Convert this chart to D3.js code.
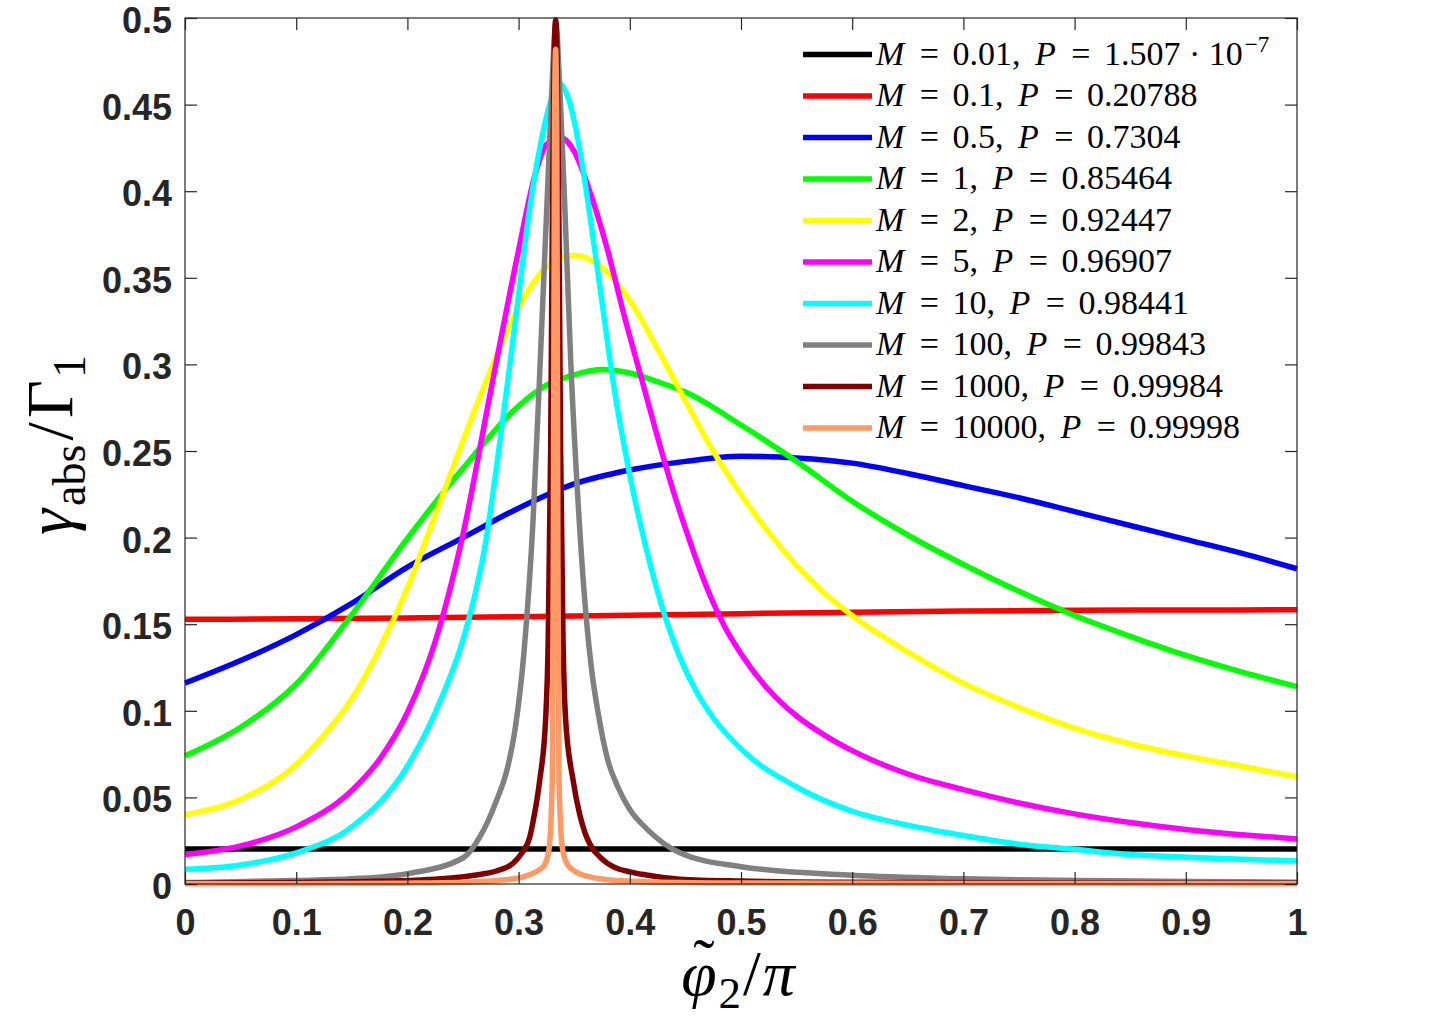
<!DOCTYPE html>
<html><head><meta charset="utf-8">
<script src="https://cdn.jsdelivr.net/npm/d3@7"></script>
<style>body{margin:0;background:#fff}svg{display:block}</style>
</head><body>
<svg id="chart" width="1434" height="1023"></svg>
<script>
// ---------- data ----------
const xTicks = [0,0.1,0.2,0.3,0.4,0.5,0.6,0.7,0.8,0.9,1];
const xTickLabels = ["0","0.1","0.2","0.3","0.4","0.5","0.6","0.7","0.8","0.9","1"];
const yTicks = [0,0.05,0.1,0.15,0.2,0.25,0.3,0.35,0.4,0.45,0.5];
const yTickLabels = ["0","0.05","0.1","0.15","0.2","0.25","0.3","0.35","0.4","0.45","0.5"];

const mLabels = ["0.01","0.1","0.5","1","2","5","10","100","1000","10000"];
const pLabels = ["1.507 \u00B7 10","0.20788","0.7304","0.85464","0.92447","0.96907","0.98441","0.99843","0.99984","0.99998"];
const pExponents = ["\u22127","","","","","","","","",""];
const colors = ["#000000","#ff0000","#0000ff","#00ff00","#ffff00","#ff00ff","#00ffff","#808080","#800000","#ff9966"];

const xM001 = [0,0.1,0.2,0.3,0.4,0.5,0.6,0.7,0.8,0.9,1];
const yM001 = [0.0202,0.0202,0.0202,0.0202,0.0202,0.0202,0.0202,0.0202,0.0202,0.0202,0.0202];

const xM01 = [0,0.1,0.2,0.3,0.4,0.5,0.6,0.7,0.8,0.9,1];
const yM01 = [0.1528,0.1531,0.1536,0.1543,0.1551,0.1561,0.1569,0.1576,0.1580,0.1582,0.1583];

const xM05 = [0,0.05,0.1,0.15,0.2,0.25,0.3,0.35,0.4,0.45,0.5,0.55,0.6,0.65,0.7,0.75,0.8,0.85,0.9,0.95,1];
const yM05 = [0.116,0.129,0.144,0.162,0.183,0.200,0.217,0.231,0.239,0.244,0.247,0.246,0.243,0.237,0.230,0.223,0.215,0.207,0.199,0.191,0.182];

const xM1 = [0,0.05,0.1,0.15,0.2,0.25,0.3,0.325,0.35,0.375,0.4,0.425,0.45,0.5,0.55,0.6,0.65,0.7,0.75,0.8,0.85,0.9,0.95,1];
const yM1 = [0.074,0.0905,0.1155,0.1555,0.1995,0.240,0.276,0.288,0.294,0.297,0.295,0.290,0.284,0.265,0.244,0.221,0.2015,0.1845,0.169,0.155,0.143,0.132,0.1225,0.114];

const xM2 = [0,0.05,0.1,0.125,0.15,0.175,0.2,0.225,0.25,0.275,0.3,0.325,0.35,0.375,0.4,0.425,0.45,0.475,0.5,0.525,0.55,0.575,0.6,0.65,0.7,0.75,0.8,0.85,0.9,0.95,1];
const yM2 = [0.040,0.049,0.069,0.086,0.107,0.136,0.171,0.213,0.256,0.297,0.333,0.356,0.363,0.356,0.337,0.309,0.279,0.250,0.225,0.203,0.184,0.168,0.155,0.134,0.116,0.102,0.090,0.081,0.074,0.068,0.062];

const xM5 = [0,0.05,0.1,0.15,0.175,0.2,0.225,0.25,0.275,0.3,0.315,0.325,0.338,0.35,0.365,0.38,0.395,0.41,0.425,0.44,0.455,0.47,0.485,0.5,0.525,0.55,0.575,0.6,0.65,0.7,0.75,0.8,0.85,0.9,0.95,1];
const yM5 = [0.017,0.022,0.033,0.054,0.072,0.099,0.140,0.202,0.285,0.366,0.410,0.427,0.431,0.423,0.398,0.366,0.328,0.293,0.258,0.225,0.196,0.170,0.149,0.133,0.112,0.097,0.086,0.077,0.0635,0.0545,0.0468,0.0405,0.0355,0.0315,0.0285,0.026];

const xM10 = [0,0.05,0.1,0.15,0.2,0.225,0.25,0.26,0.27,0.28,0.29,0.3,0.31,0.32,0.328,0.337,0.345,0.355,0.365,0.375,0.385,0.4,0.415,0.43,0.445,0.46,0.475,0.5,0.55,0.6,0.65,0.7,0.75,0.8,0.85,0.9,0.95,1];
const yM10 = [0.0085,0.011,0.018,0.033,0.068,0.099,0.141,0.165,0.196,0.240,0.289,0.340,0.390,0.428,0.450,0.462,0.453,0.424,0.382,0.336,0.290,0.236,0.193,0.158,0.131,0.111,0.096,0.078,0.056,0.042,0.034,0.028,0.023,0.020,0.017,0.0155,0.0143,0.0133];

const xM100 = [0,0.1,0.15,0.2,0.25,0.265,0.28,0.29,0.297,0.305,0.313,0.32,0.326,0.33,0.3335,0.337,0.341,0.347,0.354,0.36,0.366,0.372,0.38,0.39,0.4,0.415,0.445,0.5,0.6,0.7,0.8,0.9,1];
const yM100 = [0.0008,0.002,0.003,0.006,0.015,0.027,0.048,0.067,0.090,0.135,0.210,0.310,0.400,0.460,0.497,0.460,0.400,0.300,0.215,0.160,0.122,0.097,0.072,0.055,0.043,0.032,0.018,0.010,0.005,0.003,0.002,0.0015,0.001];

const xM1000 = [0,0.1,0.15,0.2,0.23,0.265,0.28,0.295,0.303,0.31,0.313,0.319,0.3243,0.3266,0.3288,0.3303,0.3318,0.3333,0.3348,0.3363,0.3378,0.34,0.3423,0.349,0.355,0.36,0.365,0.375,0.385,0.4,0.415,0.445,0.5,0.6,0.8,1];
const yM1000 = [0.0004,0.0009,0.0013,0.002,0.003,0.0055,0.0075,0.012,0.018,0.027,0.036,0.060,0.095,0.140,0.250,0.380,0.470,0.499,0.470,0.380,0.250,0.140,0.095,0.060,0.040,0.029,0.022,0.0145,0.010,0.007,0.0052,0.0028,0.0017,0.001,0.0006,0.0004];

const xM10000 = [0,0.1,0.2,0.25,0.28,0.3033,0.3103,0.3183,0.3233,0.3273,0.3303,0.3313,0.3323,0.3333,0.3343,0.3353,0.3363,0.3393,0.3433,0.3503,0.3633,0.38,0.42,0.5,0.7,1];
const yM10000 = [0.0001,0.0002,0.0005,0.001,0.002,0.004,0.0055,0.008,0.011,0.020,0.060,0.200,0.440,0.482,0.440,0.200,0.060,0.021,0.012,0.0075,0.0042,0.0025,0.0012,0.0006,0.0003,0.0001];

const seriesX = [xM001,xM01,xM05,xM1,xM2,xM5,xM10,xM100,xM1000,xM10000];
const seriesY = [yM001,yM01,yM05,yM1,yM2,yM5,yM10,yM100,yM1000,yM10000];

// ---------- drawing ----------
const svg = d3.select("#chart");
const L = 185, R = 1297, T = 18, B = 884;
const x = d3.scaleLinear().domain([0,1]).range([L,R]);
const y = d3.scaleLinear().domain([0,0.5]).range([B,T]);
const axisColor = "#262626";
const tickFont = "'Liberation Sans', Arial, Helvetica, sans-serif";
const serif = "'Liberation Serif', 'Times New Roman', serif";

svg.append("rect").attr("width",1434).attr("height",1023).attr("fill","#fff");

// curves
const line = d3.line().x(d=>x(d[0])).y(d=>y(d[1])).curve(d3.curveMonotoneX);
seriesX.forEach((xs,i)=>{
  const pts = xs.map((v,j)=>[v, seriesY[i][j]]);
  svg.append("path").attr("d", line(pts)).attr("fill","none")
    .attr("stroke", colors[i]).attr("stroke-width",5.5)
    .attr("stroke-linejoin","round").attr("stroke-linecap","butt");
});

// axes
function styleAxis(g){
  g.select(".domain").remove();
  g.selectAll(".tick line").attr("stroke",axisColor).attr("stroke-width",1.2);
  g.selectAll(".tick text").attr("fill",axisColor).attr("font-family",tickFont)
    .attr("font-weight","bold").attr("font-size",36);
}
svg.append("g").attr("transform",`translate(0,${B})`)
  .call(d3.axisBottom(x).tickValues(xTicks).tickFormat((d,i)=>xTickLabels[i]).tickSizeInner(-12).tickSizeOuter(0).tickPadding(25))
  .call(styleAxis);
svg.append("g").attr("transform",`translate(${L},0)`)
  .call(d3.axisLeft(y).tickValues(yTicks).tickFormat((d,i)=>yTickLabels[i]).tickSizeInner(-12).tickSizeOuter(0).tickPadding(13))
  .call(styleAxis)
  .call(g=>g.selectAll(".tick text").attr("dy","0.4em"));
svg.append("g").attr("transform",`translate(0,${T})`)
  .call(d3.axisTop(x).tickValues(xTicks).tickFormat("").tickSizeInner(-12).tickSizeOuter(0))
  .call(styleAxis);
svg.append("g").attr("transform",`translate(${R},0)`)
  .call(d3.axisRight(y).tickValues(yTicks).tickFormat("").tickSizeInner(-12).tickSizeOuter(0))
  .call(styleAxis);
svg.append("rect").attr("x",L).attr("y",T).attr("width",R-L).attr("height",B-T)
  .attr("fill","none").attr("stroke",axisColor).attr("stroke-width",1.2);

// legend
const legX0 = 803, legX1 = 872, legY0 = 54.5, legDy = 41.5;
mLabels.forEach((m,i)=>{
  const yy = legY0 + i*legDy;
  svg.append("line").attr("x1",legX0).attr("x2",legX1).attr("y1",yy).attr("y2",yy)
    .attr("stroke",colors[i]).attr("stroke-width",5.5);
  const t = svg.append("text").attr("x",legX1+4).attr("y",yy+10)
    .attr("font-family",serif).attr("font-size",34).attr("fill","#000");
  t.append("tspan").attr("font-style","italic").text("M");
  t.append("tspan").attr("dx",7).text(" =");
  t.append("tspan").attr("dx",5).text(" " + m + ",");
  t.append("tspan").attr("dx",6).text(" ");
  t.append("tspan").attr("font-style","italic").text("P");
  t.append("tspan").attr("dx",7).text(" =");
  t.append("tspan").attr("dx",5).text(" " + pLabels[i]);
  if (pExponents[i]) t.append("tspan").attr("font-size",23).attr("dx",2).attr("dy",-13).text(pExponents[i]);
});

// x label (tilde kept inside the same text element, placed over phi)
const xl = svg.append("text").attr("x",738).attr("y",995).attr("text-anchor","middle")
  .attr("font-family",serif).attr("font-size",64).attr("fill","#000");
const phi = xl.append("tspan").attr("font-style","italic").text("\u03C6");
const tilde = xl.append("tspan").attr("dy",-12).text("\u02DC");
const two = xl.append("tspan").attr("font-size",45).attr("dy",25).text("2");
xl.append("tspan").attr("dx",2).attr("dy",-13).text("/");
xl.append("tspan").attr("dx",2).attr("font-style","italic").text("\u03C0");
const phiW = phi.node().getComputedTextLength();
const tW = tilde.node().getComputedTextLength();
tilde.attr("dx", -(phiW/2 + tW/2) + 5);
two.attr("dx", phiW/2 - tW/2 - 5 + 2);

// y label
const yl = svg.append("text").attr("transform","translate(72,445) rotate(-90)").attr("text-anchor","middle")
  .attr("font-family",serif).attr("font-size",66).attr("fill","#000");
yl.append("tspan").attr("font-style","italic").text("\u03B3");
yl.append("tspan").attr("font-size",46).attr("dx",3).attr("dy",13).text("abs");
yl.append("tspan").attr("dx",4).attr("dy",-13).text("/");
yl.append("tspan").attr("dx",4).text("\u0393");
yl.append("tspan").attr("font-size",46).attr("dx",2).attr("dy",13).text("1");
</script>
</body></html>
